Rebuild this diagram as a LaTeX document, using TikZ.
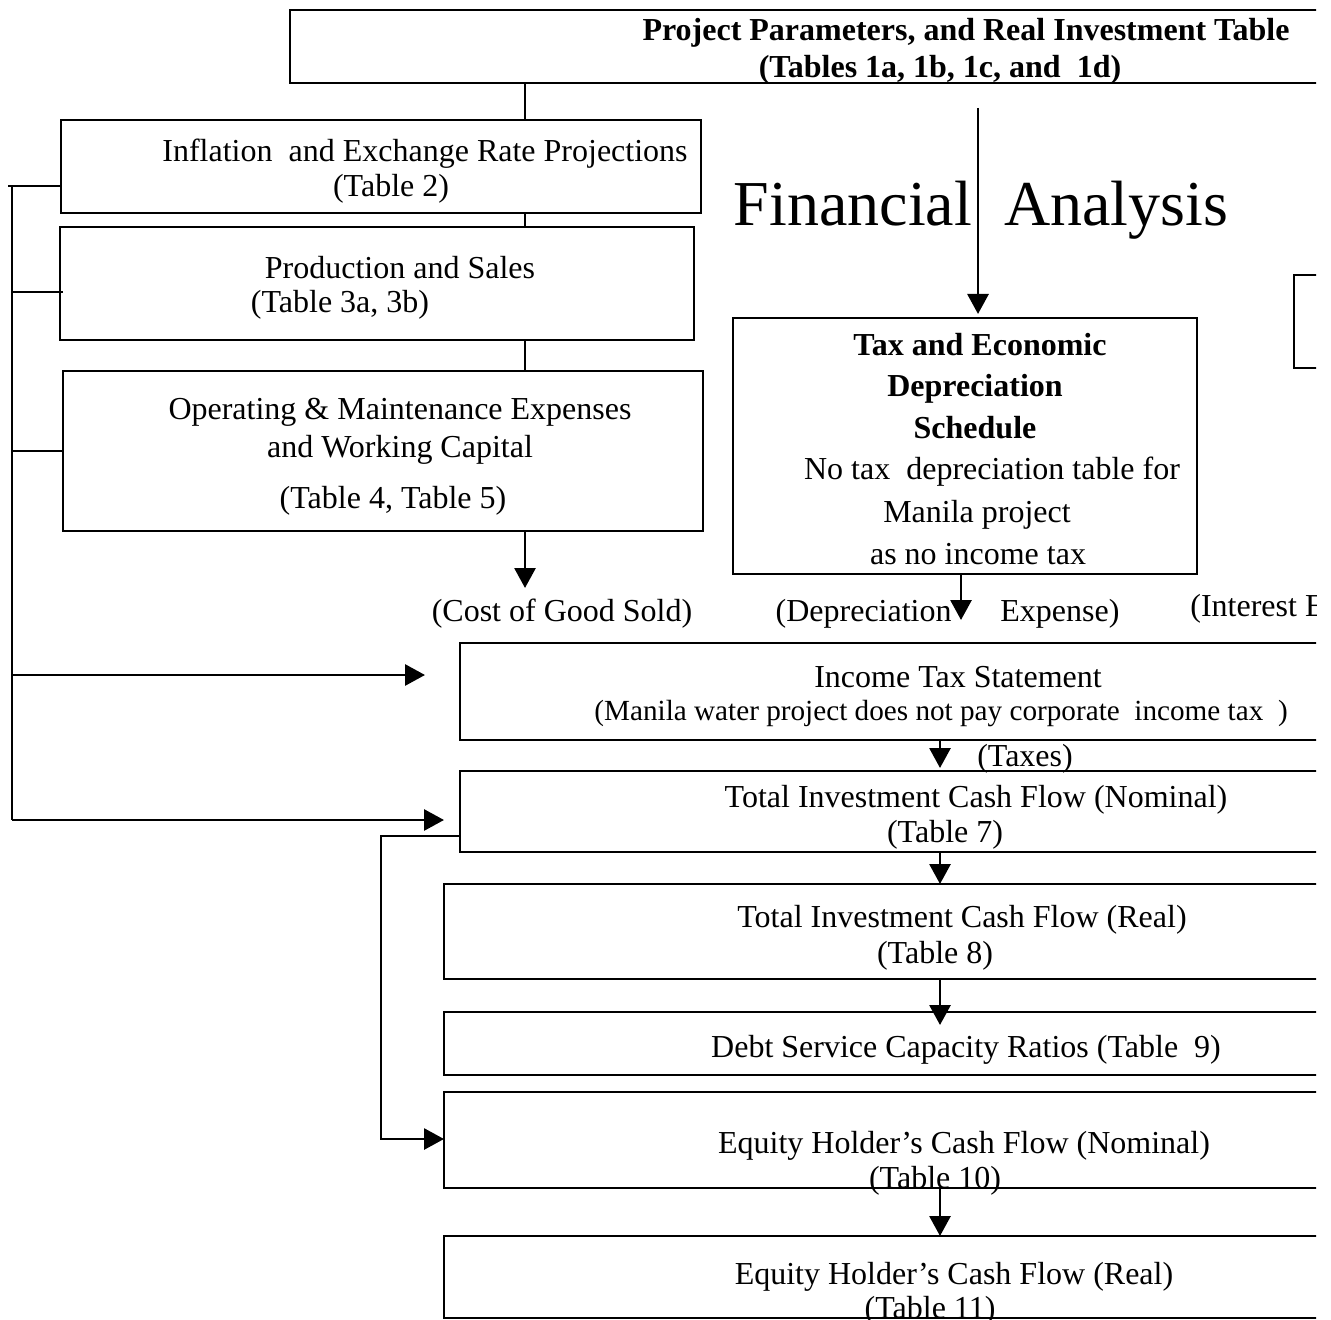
\documentclass[tikz,border=0pt]{standalone}
\usepackage{fontspec}
\setmainfont{Liberation Serif}
\usetikzlibrary{arrows.meta}
\newcommand\mybox[5]{\node[box,minimum width=#4*0.5pt,minimum height=#5*0.5pt] (#1) at (#2,#3) {};}
\begin{document}
\begin{tikzpicture}[x=0.5pt,y=-0.5pt,
  box/.style={draw,line width=1.45pt,inner sep=0pt,outer sep=0pt},
  txt/.style={inner sep=0pt,anchor=base,font=\fontsize{16}{19}\selectfont},
  btxt/.style={txt,font=\fontsize{16}{19}\selectfont\bfseries},
  stxt/.style={txt,font=\fontsize{14.6}{17}\selectfont},
  big/.style={inner sep=0pt,anchor=base,font=\fontsize{32}{38}\selectfont},
  line/.style={line width=1.45pt},
  arr/.style={line width=1.45pt,-{Triangle[length=10pt,width=10.5pt]}}]
\useasboundingbox (0,0) rectangle (1331,1320);
\begin{scope}
\clip (0,0) rectangle (1316,1320);
% boxes
\mybox{top}{845}{46.5}{1110}{73}
\mybox{infl}{381}{166.5}{640}{93}
\mybox{prod}{377}{283.5}{634}{113}
\mybox{om}{383}{451}{640}{160}
\mybox{tax}{965}{446}{464}{256}
\mybox{rbox}{1397}{321.5}{206}{93}
\mybox{itax}{980}{691.5}{1040}{97}
\mybox{ticfn}{980}{811.5}{1040}{81}
\mybox{ticfr}{972}{931.5}{1056}{95}
\mybox{dscr}{972}{1043.5}{1056}{63}
\mybox{eqn}{972}{1140}{1056}{96}
\mybox{eqr}{972}{1277}{1056}{82}
% texts
\node[btxt] (t1) at (966,41) {Project Parameters, and Real Investment Table};
\node[btxt] (t2) at (940,78) {(Tables 1a, 1b, 1c, and\ \ 1d)};
\node[txt] (i1) at (425,162) {Inflation\ \ and Exchange Rate Projections};
\node[txt] (i2) at (391,197) {(Table 2)};
\node[txt] (p1) at (400,279) {Production and Sales};
\node[txt] (p2) at (340,313) {(Table 3a, 3b)};
\node[txt] (o1) at (400,420) {Operating \& Maintenance Expenses};
\node[txt] (o2) at (400,458) {and Working Capital};
\node[txt] (o3) at (393,508) {(Table 4, Table 5)};
\node[btxt] (x1) at (980,356) {Tax and Economic};
\node[btxt] (x2) at (975,397) {Depreciation};
\node[btxt] (x3) at (975,438) {Schedule};
\node[txt] (x4) at (992,480) {No tax\ \ depreciation table for};
\node[txt] (x5) at (977,522) {Manila project};
\node[txt] (x6) at (978,564) {as no income tax};
\node[big] (fa) at (981,226) {Financial\ \ Analysis};
\node[txt] (cogs) at (562,621) {(Cost of Good Sold)};
\node[txt,anchor=base east] (dep1) at (952,621) {(Depreciation};
\node[txt,anchor=base west] (dep2) at (1000,621) {Expense)};
\node[txt,anchor=base west] (intr) at (1190,616) {(Interest Expense)};
\node[txt] (it1) at (958,687) {Income Tax Statement};
\node[stxt] (it2) at (941,720) {(Manila water project does not pay corporate\ \ income tax\ \ )};
\node[txt] (taxes) at (1025,766) {(Taxes)};
\node[txt] (n1) at (976,807) {Total Investment Cash Flow (Nominal)};
\node[txt] (n2) at (945,842) {(Table 7)};
\node[txt] (r1) at (962,927) {Total Investment Cash Flow (Real)};
\node[txt] (r2) at (935,963) {(Table 8)};
\node[txt] (d1) at (966,1057) {Debt Service Capacity Ratios (Table\ \ 9)};
\node[txt] (e1) at (964,1153) {Equity Holder’s Cash Flow (Nominal)};
\node[txt] (e2) at (935,1188) {(Table 10)};
\node[txt] (f1) at (954,1284) {Equity Holder’s Cash Flow (Real)};
\node[txt] (f2) at (930,1318) {(Table 11)};
% helper coordinates
\coordinate (cA) at (525,0);
\coordinate (cF) at (978,0);
\coordinate (cD) at (961,0);
\coordinate (cT) at (940,0);
% main column connectors
\draw[line] (top.south -| cA) -- (infl.north -| cA);
\draw[line] (infl.south -| cA) -- (prod.north -| cA);
\draw[line] (prod.south -| cA) -- (om.north -| cA);
\coordinate (cogsTip) at (525,588);
\draw[arr] (om.south -| cA) -- (cogsTip);
\coordinate (faTop) at (978,108);
\draw[arr] (faTop) -- ([yshift=2pt]tax.north -| cF);
\coordinate (depTip) at (961,620);
\draw[arr] (tax.south -| cD) -- (depTip);
\draw[arr] (itax.south -| cT) -- ([yshift=1.5pt]ticfn.north -| cT);
\draw[arr] (ticfn.south -| cT) -- (ticfr.north -| cT);
\draw[arr] (ticfr.south -| cT) -- ([yshift=-6.5pt]dscr.north -| cT);
\draw[arr] (eqn.south -| cT) -- (eqr.north -| cT);
% left bus
\coordinate (b0) at (8,186);
\coordinate (b1) at (12,186);
\coordinate (b2) at (12,292);
\coordinate (b3) at (12,451);
\coordinate (b4) at (12,675);
\coordinate (b5) at (12,820);
\coordinate (itaxTip) at (425,675);
\draw[line] (b0) -- (infl.west |- b0);
\draw[line] (b1) -- (b5);
\draw[line] (b2) -- ([xshift=1.5pt]prod.west |- b2);
\draw[line] (b3) -- (om.west |- b3);
\draw[arr] (b4) -- (itaxTip);
\draw[arr] (b5) -- (ticfr.west |- b5);
% second bus
\coordinate (c0) at (381,836);
\coordinate (c2) at (381,1139);
\draw[arr] (ticfn.west |- c0) -- (c0) -- (c2) -- (eqn.west |- c2);
\end{scope}
\end{tikzpicture}
\end{document}
